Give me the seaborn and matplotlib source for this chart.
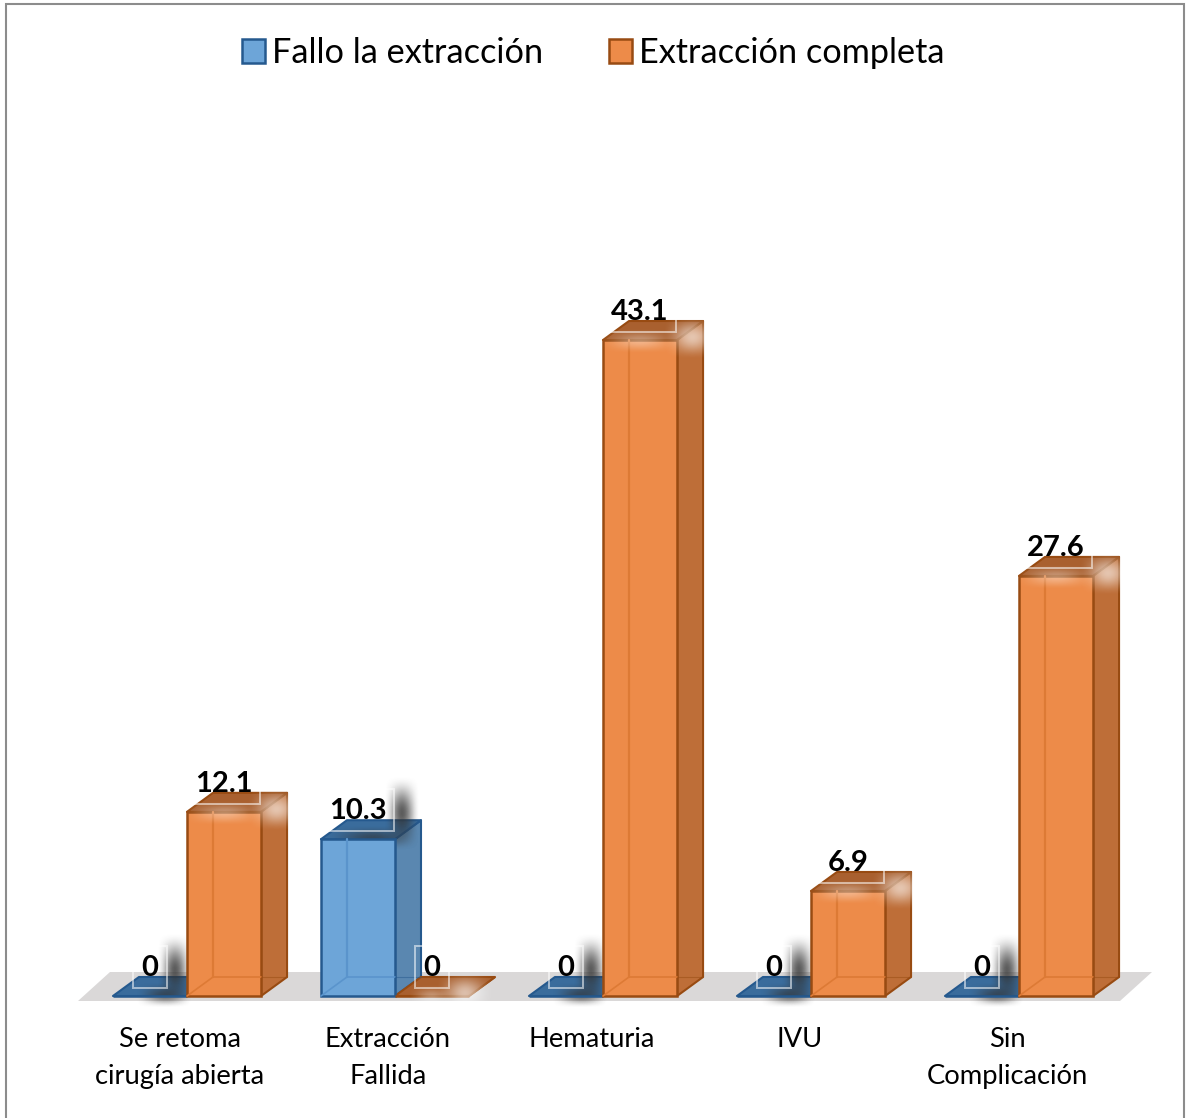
import numpy as np
import pandas as pd
import matplotlib
matplotlib.use('Agg')
import matplotlib.pyplot as plt
import seaborn as sns
from matplotlib.patches import Polygon, Rectangle

# Data
categories = ['Se retoma\ncirugía abierta', 'Extracción\nFallida', 'Hematuria', 'IVU', 'Sin\nComplicación']
series_names = ['Fallo la extracción', 'Extracción completa']
fallo = [0, 10.3, 0, 0, 0]
completa = [12.1, 0, 43.1, 6.9, 27.6]

# Colours per series: front, edge, side, top, inner line
palette = ['#6DA5D8', '#ED8B49']
edges = ['#25598E', '#984B12']
sides = ['#5A87B0', '#BE6E38']
tops = ['#3A6C9C', '#A9602F']
inner = ['#5A94CC', '#DD7A35']

df = pd.DataFrame({
    'categoria': categories * 2,
    'serie': [series_names[0]] * 5 + [series_names[1]] * 5,
    'valor': fallo + completa,
})

sns.set_theme(style='white')
plt.rcParams['font.family'] = ['Lato', 'DejaVu Sans']
plt.rcParams['text.color'] = 'black'
plt.rcParams['xtick.color'] = 'black'

W, H = 1186, 1118
PX_X = 1 / 208       # data units per pixel, x
PX_Y = 1 / 15.22     # data units per pixel, y
DX, DY = 26 * PX_X, 19 * PX_Y   # depth of the fake 3d

fig = plt.figure(figsize=(W / 100, H / 100), dpi=100)
ax = fig.add_axes([0, (H - 1016) / H, 1, 1016 / H])
ax.patch.set_alpha(0)

sns.barplot(data=df, x='categoria', y='valor', hue='serie', palette=palette,
            width=0.712, gap=0, saturation=1, linewidth=1.8, ax=ax, zorder=3)


def soft_rect(x0, x1, y0, y1, color, alpha, z=5, soft=0.5):
    # rectangle with blurred edges, used for the label shadow and glare
    ramp = np.clip(np.minimum(np.linspace(0, 1, 64), np.linspace(1, 0, 64)) / soft, 0, 1)
    ramp = ramp * ramp * (3 - 2 * ramp)
    img = np.zeros((64, 64, 4))
    img[..., :3] = matplotlib.colors.to_rgb(color)
    img[..., 3] = np.outer(ramp, ramp) * alpha
    ax.imshow(img, extent=(x0, x1, y0, y1), aspect='auto', zorder=z, interpolation='bilinear')


ax.autoscale(False)

# Fake 3d faces on top of the seaborn bars
for k, cont in enumerate(ax.containers):
    for bar in cont:
        x0, w, h = bar.get_x(), bar.get_width(), bar.get_height()
        x1 = x0 + w
        bar.set_edgecolor(edges[k])
        ax.add_patch(Polygon([(x1, 0), (x1 + DX, DY), (x1 + DX, h + DY), (x1, h)],
                             fc=sides[k], ec=edges[k], lw=1.5, zorder=2, joinstyle='round'))
        ax.add_patch(Polygon([(x0, h), (x0 + DX, h + DY), (x1 + DX, h + DY), (x1, h)],
                             fc=tops[k], ec=edges[k], lw=1.5, zorder=2, joinstyle='round'))
        if h > 0:
            # hidden edges seen through the bar
            ax.plot([x0 + DX, x0 + DX], [DY, h], color=inner[k], lw=1.6, zorder=4)
            ax.plot([x0 + DX, x1], [DY, DY], color=inner[k], lw=1.2, zorder=4)
            ax.plot([x0, x0 + DX], [0, DY], color=inner[k], lw=1.2, zorder=4)
            ax.plot([x1, x1 + DX], [DY, DY], color=edges[k], lw=0.8, alpha=0.5, zorder=4)

        # white frame and shadow/glare of the value label
        xc = x0 + w / 2
        half = 17 * PX_X if h == 0 else 36 * PX_X
        by = h + 8 * PX_Y
        ax.add_patch(Rectangle((xc - half, by), 2 * half, 42 * PX_Y, fc='none', ec='white',
                               lw=1.4, alpha=0.55, zorder=6))
        if k == 0:
            # kept behind the front faces
            soft_rect(xc + half - 10 * PX_X, xc + half + 26 * PX_X, by - 20 * PX_Y, by + 56 * PX_Y,
                      '#333333', 0.8, z=2.5)
            soft_rect(xc - half + 2 * PX_X, xc + half + 26 * PX_X, by - 20 * PX_Y, by + 6 * PX_Y,
                      '#333333', 0.6, z=2.5)
        else:
            soft_rect(xc + half - 14 * PX_X, xc + half + 46 * PX_X, by - 28 * PX_Y, by + 18 * PX_Y,
                      'white', 0.6)
            soft_rect(xc - half - 8 * PX_X, xc + half + 8 * PX_X, by - 22 * PX_Y, by + 4 * PX_Y,
                      'white', 0.35)

    ax.bar_label(cont, fmt='%g', padding=11, fontsize=21, fontweight='bold', color='black', zorder=8)

# Grey floor under the bars
n = len(categories)
floor_l, floor_r = -109 * PX_X, (n - 1) + 133 * PX_X
ax.add_patch(Polygon([(floor_l, -5 * PX_Y), (floor_l + 32 * PX_X, 24 * PX_Y),
                      (floor_r, 24 * PX_Y), (floor_r - 32 * PX_X, -5 * PX_Y)],
                     fc='#DAD8D8', ec='none', zorder=1, clip_on=False))

ax.set_xlim(-187 * PX_X, (W - 187) * PX_X)
ax.set_ylim(-20 * PX_Y, 996 * PX_Y)

# labels sit a little left of the group centre
label_shift = np.array([-7, -7, -11, -11, -12]) * PX_X
ax.set_xticks(np.arange(n) + label_shift, categories)
ax.tick_params(axis='x', length=0, pad=8, labelsize=19.7)
for lab in ax.get_xticklabels():
    lab.set_linespacing(1.57)
ax.set_yticks([])
ax.set_xlabel('')
ax.set_ylabel('')
sns.despine(ax=ax, left=True, bottom=True, top=True, right=True)

# Legend on one row above the bars
handles, labels = ax.get_legend_handles_labels()
for hd, ec in zip(handles, edges):
    hd.set_edgecolor(ec)
    hd.set_linewidth(1.8)
ax.legend(handles, labels, loc='center', bbox_to_anchor=(593 / W, 1 - 53 / 1016), ncol=2, frameon=False,
          fontsize=24.7, handlelength=0.67, handleheight=0.67, handletextpad=0.2, columnspacing=1.93)

# Chart frame, its bottom edge is cut off by the picture
fig.add_artist(Rectangle((6 / W, -0.02), (1184 - 6) / W, 1.02 - 4 / H, transform=fig.transFigure,
                         fc='none', ec='#8C8C8C', lw=1.5))

fig.savefig('out.png', dpi=100)
